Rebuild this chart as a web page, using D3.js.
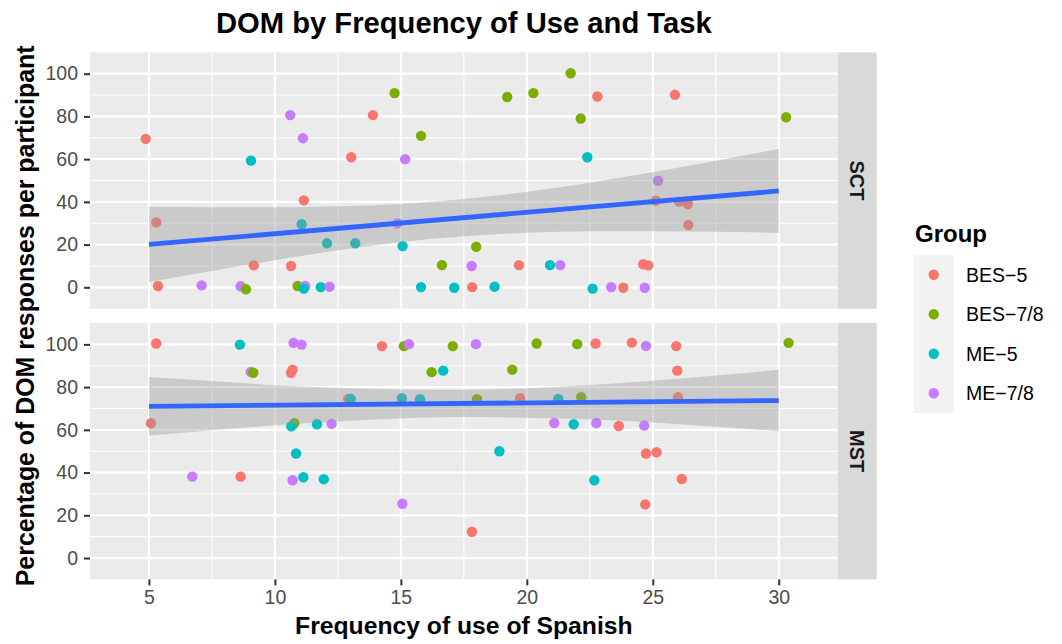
<!doctype html>
<html lang="en">
<head>
<meta charset="utf-8">
<title>DOM by Frequency of Use and Task</title>
<script src="https://cdn.jsdelivr.net/npm/d3@7"></script>
<style>
  body { margin: 0; background: #fff; }
  svg { display: block; font-family: "Liberation Sans", Arial, sans-serif; }
</style>
</head>
<body>
<div id="my_dataviz"></div>
<script>
// groups and tasks
var groups = ["BES−5", "BES−7/8", "ME−5", "ME−7/8"];
var groupColors = ["#F8766D", "#7CAE00", "#00BFC4", "#C77CFF"];
var tasks = ["SCT", "MST"];
var xTicks = [5, 10, 15, 20, 25, 30];
var yTicks = [0, 20, 40, 60, 80, 100];

// SCT panel (jittered points): frequency, % DOM, group index
var sctFreq = [4.87, 5.29, 5.36, 7.09, 9.05, 8.64, 8.85, 9.16, 10.61, 11.11, 11.15, 11.06, 10.64, 10.90, 11.20,
  11.15, 11.82, 12.17, 12.07, 13.19, 13.03, 13.89, 14.75, 15.80, 15.17, 14.86, 15.07, 16.63, 15.80, 17.12,
  17.83, 17.81, 17.99, 19.22, 20.26, 21.74, 22.14, 22.80, 22.40, 18.72, 19.69, 20.92, 21.33, 22.61, 23.35,
  23.83, 24.68, 24.62, 24.82, 25.88, 25.21, 25.12, 26.04, 26.39, 26.41, 30.29];
var sctDom = [69.5, 30.4, 0.6, 0.9, 59.3, 0.5, -0.9, 10.3, 80.6, 69.8, 40.7, 29.5, 10.0, 0.6, 0.6,
  -0.6, 0.1, 0.3, 20.6, 20.6, 60.9, 80.6, 90.9, 70.9, 60.0, 30.0, 19.3, 10.4, 0.1, -0.2,
  0.1, 10.0, 19.0, 89.1, 90.9, 100.2, 79.0, 89.3, 60.9, 0.3, 10.4, 10.4, 10.4, -0.6, 0.1,
  -0.2, -0.2, 10.8, 10.3, 90.1, 49.9, 40.6, 40.1, 39.0, 29.2, 79.6];
var sctGroup = [0, 0, 0, 3, 2, 3, 1, 0, 3, 3, 0, 2, 0, 1, 3,
  2, 2, 3, 2, 2, 0, 0, 1, 1, 3, 3, 2, 1, 2, 2,
  0, 3, 1, 1, 1, 1, 1, 0, 2, 2, 0, 2, 3, 2, 3,
  0, 3, 0, 0, 0, 3, 0, 0, 0, 0, 1];

// MST panel
var mstFreq = [5.29, 5.08, 6.72, 8.64, 8.61, 9.04, 9.14, 10.64, 10.70, 10.74, 11.06, 10.77, 10.65, 10.84, 10.70,
  11.13, 11.94, 11.67, 12.25, 12.91, 13.01, 14.25, 15.12, 15.32, 15.04, 15.76, 15.06, 16.22, 16.68, 17.06,
  17.98, 18.02, 17.82, 18.91, 19.42, 19.73, 20.39, 21.09, 21.25, 21.86, 22.00, 22.16, 22.68, 22.73, 22.76,
  23.65, 24.17, 24.73, 24.66, 24.73, 25.15, 24.70, 25.93, 25.97, 26.00, 26.15, 30.39];
var mstDom = [100.4, 63.1, 38.1, 38.1, 99.9, 87.1, 86.7, 86.7, 88.2, 100.7, 99.9, 63.1, 61.7, 48.9, 36.4,
  37.8, 36.9, 62.6, 62.8, 74.5, 74.5, 99.2, 99.2, 100.1, 74.8, 74.3, 25.4, 87.0, 87.7, 99.2,
  100.1, 74.3, 12.3, 50.0, 88.2, 74.8, 100.4, 63.2, 74.5, 62.6, 100.1, 75.3, 36.4, 100.4, 63.2,
  61.8, 100.8, 99.3, 62.0, 48.9, 49.5, 25.1, 99.2, 87.7, 75.3, 37.0, 100.7];
var mstGroup = [0, 0, 3, 0, 2, 3, 1, 0, 0, 3, 3, 1, 2, 2, 3,
  2, 2, 2, 3, 0, 2, 0, 1, 3, 2, 2, 3, 1, 2, 1,
  3, 1, 0, 2, 1, 0, 1, 3, 2, 2, 1, 1, 2, 0, 3,
  0, 0, 3, 3, 0, 0, 0, 0, 0, 0, 0, 1];

// linear fit and confidence band
var fitX = [5, 30];
var sctFit = [20.1, 45.1];
var mstFit = [71.0, 73.7];
var bandX = [5, 7.5, 10, 12.5, 15, 17.5, 20, 22.5, 25, 27.5, 30];
var sctLower = [2.5, 7.7, 12.7, 17.3, 21.2, 23.9, 25.5, 26.2, 26.3, 26.0, 25.5];
var sctUpper = [37.7, 37.5, 37.5, 37.9, 39.0, 41.3, 44.7, 49.0, 53.9, 59.2, 64.7];
var mstLower = [57.3, 59.8, 62.1, 63.9, 65.3, 65.95, 65.7, 64.8, 63.4, 61.4, 59.3];
var mstUpper = [84.7, 82.8, 80.9, 79.7, 78.9, 78.75, 79.5, 81.0, 83.0, 85.4, 88.1];

var panels = [
  { freq: sctFreq, dom: sctDom, grp: sctGroup, fit: sctFit, lower: sctLower, upper: sctUpper },
  { freq: mstFreq, dom: mstDom, grp: mstGroup, fit: mstFit, lower: mstLower, upper: mstUpper }
];

var W = 1062, H = 644;
var left = 90, right = 837.7;
var panelTops = [52.3, 323], panelH = 256.4;
var stripW = 39;

var svg = d3.select("#my_dataviz")
  .append("svg")
  .attr("width", W)
  .attr("height", H);

var x = d3.scaleLinear().domain([2.66, 32.34]).range([left, right]);

panels.forEach(function (p, i) {
  var top = panelTops[i];
  var y = d3.scaleLinear().domain([-10, 110]).range([top + panelH, top]);
  var g = svg.append("g");

  // background + grid
  g.append("rect")
    .attr("x", left).attr("y", top)
    .attr("width", right - left).attr("height", panelH)
    .attr("fill", "#EBEBEB");

  g.selectAll(".minorx").data([7.5, 12.5, 17.5, 22.5, 27.5]).enter()
    .append("line")
    .attr("x1", d => x(d)).attr("x2", d => x(d))
    .attr("y1", top).attr("y2", top + panelH)
    .attr("stroke", "#fff").attr("stroke-width", 1.1);
  g.selectAll(".minory").data([10, 30, 50, 70, 90]).enter()
    .append("line")
    .attr("x1", left).attr("x2", right)
    .attr("y1", d => y(d)).attr("y2", d => y(d))
    .attr("stroke", "#fff").attr("stroke-width", 1.1);
  g.selectAll(".majorx").data(xTicks).enter()
    .append("line")
    .attr("x1", d => x(d)).attr("x2", d => x(d))
    .attr("y1", top).attr("y2", top + panelH)
    .attr("stroke", "#fff").attr("stroke-width", 2.2);
  g.selectAll(".majory").data(yTicks).enter()
    .append("line")
    .attr("x1", left).attr("x2", right)
    .attr("y1", d => y(d)).attr("y2", d => y(d))
    .attr("stroke", "#fff").attr("stroke-width", 2.2);

  // points
  g.append("g").selectAll("circle")
    .data(d3.range(p.freq.length))
    .enter()
    .append("circle")
    .attr("cx", d => x(p.freq[d]))
    .attr("cy", d => y(p.dom[d]))
    .attr("r", 5.2)
    .attr("fill", d => groupColors[p.grp[d]]);

  // confidence band, then fit line
  var area = d3.area()
    .x(d => x(bandX[d]))
    .y0(d => y(p.lower[d]))
    .y1(d => y(p.upper[d]))
    .curve(d3.curveMonotoneX);
  g.append("path")
    .attr("d", area(d3.range(bandX.length)))
    .attr("fill", "#999999")
    .attr("fill-opacity", 0.4);

  g.append("line")
    .attr("x1", x(fitX[0])).attr("y1", y(p.fit[0]))
    .attr("x2", x(fitX[1])).attr("y2", y(p.fit[1]))
    .attr("stroke", "#3366FF").attr("stroke-width", 4.8);

  // y axis
  var ya = g.append("g")
    .attr("transform", "translate(" + left + ",0)")
    .call(d3.axisLeft(y).tickValues(yTicks).tickSize(6).tickPadding(6));
  ya.select(".domain").remove();
  ya.selectAll("line").attr("stroke", "#333333").attr("stroke-width", 2);
  ya.selectAll("text").attr("fill", "#4D4D4D").style("font-size", "19.5px")
    .style("font-family", "'Liberation Sans', Arial, sans-serif");

  // strip on the right
  g.append("rect")
    .attr("x", right).attr("y", top)
    .attr("width", stripW).attr("height", panelH)
    .attr("fill", "#D9D9D9");
  g.append("text")
    .attr("transform", "translate(" + (right + stripW / 2) + "," + (top + panelH / 2) + ") rotate(90)")
    .attr("text-anchor", "middle")
    .attr("dy", "0.36em")
    .attr("fill", "#1A1A1A")
    .style("font-size", "20px")
    .style("font-weight", "bold")
    .text(tasks[i]);

  // x axis only under the bottom panel
  if (i == panels.length - 1) {
    var xa = g.append("g")
      .attr("transform", "translate(0," + (top + panelH) + ")")
      .call(d3.axisBottom(x).tickValues(xTicks).tickSize(6).tickPadding(4.5));
    xa.select(".domain").remove();
    xa.selectAll("line").attr("stroke", "#333333").attr("stroke-width", 2);
    xa.selectAll("text").attr("fill", "#4D4D4D").style("font-size", "19.5px")
      .style("font-family", "'Liberation Sans', Arial, sans-serif");
  }
});

// titles
var midX = (left + right) / 2;
svg.append("text")
  .attr("x", midX).attr("y", 33)
  .attr("text-anchor", "middle")
  .style("font-size", "29.2px").style("font-weight", "bold")
  .text("DOM by Frequency of Use and Task");

svg.append("text")
  .attr("x", midX).attr("y", 634)
  .attr("text-anchor", "middle")
  .style("font-size", "24.7px").style("font-weight", "bold")
  .text("Frequency of use of Spanish");

svg.append("text")
  .attr("transform", "translate(33.5," + ((panelTops[0] + panelTops[1] + panelH) / 2) + ") rotate(-90)")
  .attr("text-anchor", "middle")
  .style("font-size", "24.9px").style("font-weight", "bold")
  .text("Percentage of DOM responses per participant");

// legend
var lg = svg.append("g");
lg.append("text")
  .attr("x", 915).attr("y", 241.5)
  .style("font-size", "24px").style("font-weight", "bold")
  .text("Group");

var keyH = 39.5, keyTop = 255, keyLeft = 914;
lg.append("rect")
  .attr("x", keyLeft).attr("y", keyTop)
  .attr("width", keyH).attr("height", keyH * groups.length)
  .attr("fill", "#F2F2F2");

groups.forEach(function (name, k) {
  var cy = keyTop + keyH * k + keyH / 2;
  lg.append("circle")
    .attr("cx", keyLeft + keyH / 2).attr("cy", cy)
    .attr("r", 5.2)
    .attr("fill", groupColors[k]);
  lg.append("text")
    .attr("x", 966).attr("y", cy)
    .attr("dy", "0.36em")
    .style("font-size", "19.5px")
    .text(name);
});
</script>
</body>
</html>
